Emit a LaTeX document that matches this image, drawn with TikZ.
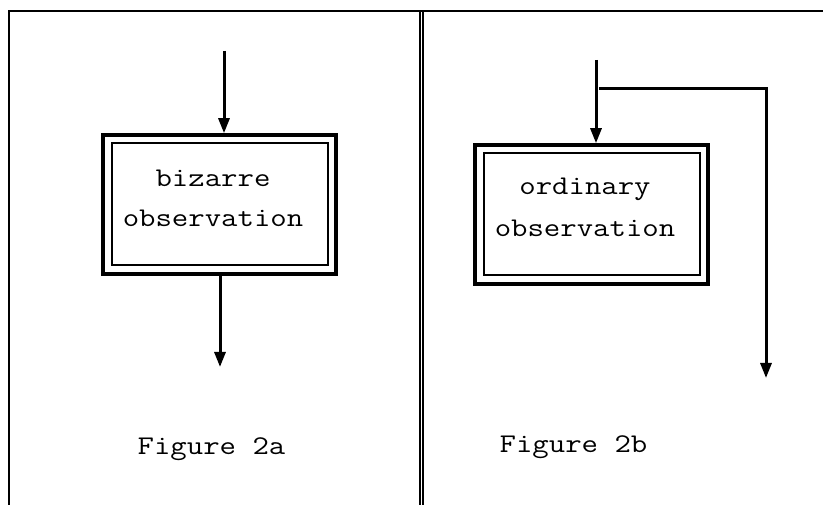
\documentclass[tikz,border=0pt]{standalone}
\usepackage{graphicx}
\usetikzlibrary{arrows.meta}
\tikzset{
  frameline/.style={line width=2.2pt},
  divline/.style={line width=1.8pt},
  flow/.style={line width=3pt, -{Triangle[width=11pt,length=15pt]}},
  outerbox/.style={draw, line width=3.6pt, minimum width=233pt, minimum height=139pt, inner sep=0pt},
  innerbox/.style={line width=2pt},
  txt/.style={inner sep=0pt, anchor=base, font=\fontsize{27}{41}\selectfont\ttfamily},
}
\newcommand{\wide}[1]{\scalebox{1.18}[1]{#1}}
\begin{document}
\begin{tikzpicture}[x=1pt,y=1pt]
\useasboundingbox (0,0) rectangle (823,504);
% frame
\draw[frameline] (824,493) -- (9,493) -- (9,-1);
\draw[divline] (419.8,493) -- (419.8,-1);
\draw[divline] (422.8,493) -- (422.8,-1);
% left box
\node[outerbox] (boxa) at (219.5,299.5) {};
\draw[innerbox] ([shift={(10.3pt,-10.3pt)}]boxa.north west) rectangle ([shift={(-10.3pt,10.3pt)}]boxa.south east);
\node[txt] (ta1) at (213,317) {\wide{bizarre}};
\node[txt] (ta2) at (213,277) {\wide{observation}};
\coordinate (ain) at (224,453);
\coordinate (aout) at (220,137);
\draw[flow] (ain) -- (ain |- boxa.north);
\draw[flow] (aout |- boxa.south) -- (aout);
\node[txt] (capa) at (211.5,49) {\wide{Figure 2a}};
% right box
\node[outerbox] (boxb) at (591.5,289.5) {};
\draw[innerbox] ([shift={(10.3pt,-10.3pt)}]boxb.north west) rectangle ([shift={(-10.3pt,10.3pt)}]boxb.south east);
\node[txt] (tb1) at (585,309) {\wide{ordinary}};
\node[txt] (tb2) at (585,267) {\wide{observation}};
\coordinate (bin) at (596,444);
\draw[flow] (bin) -- (bin |- boxb.north);
\coordinate (bl) at (599,415);
\coordinate (br) at (766,415);
\coordinate (bout) at (766,126);
\draw[flow] (bl) -- (br) -- (bout);
\node[txt] (capb) at (573.5,51) {\wide{Figure 2b}};
\end{tikzpicture}
\end{document}
